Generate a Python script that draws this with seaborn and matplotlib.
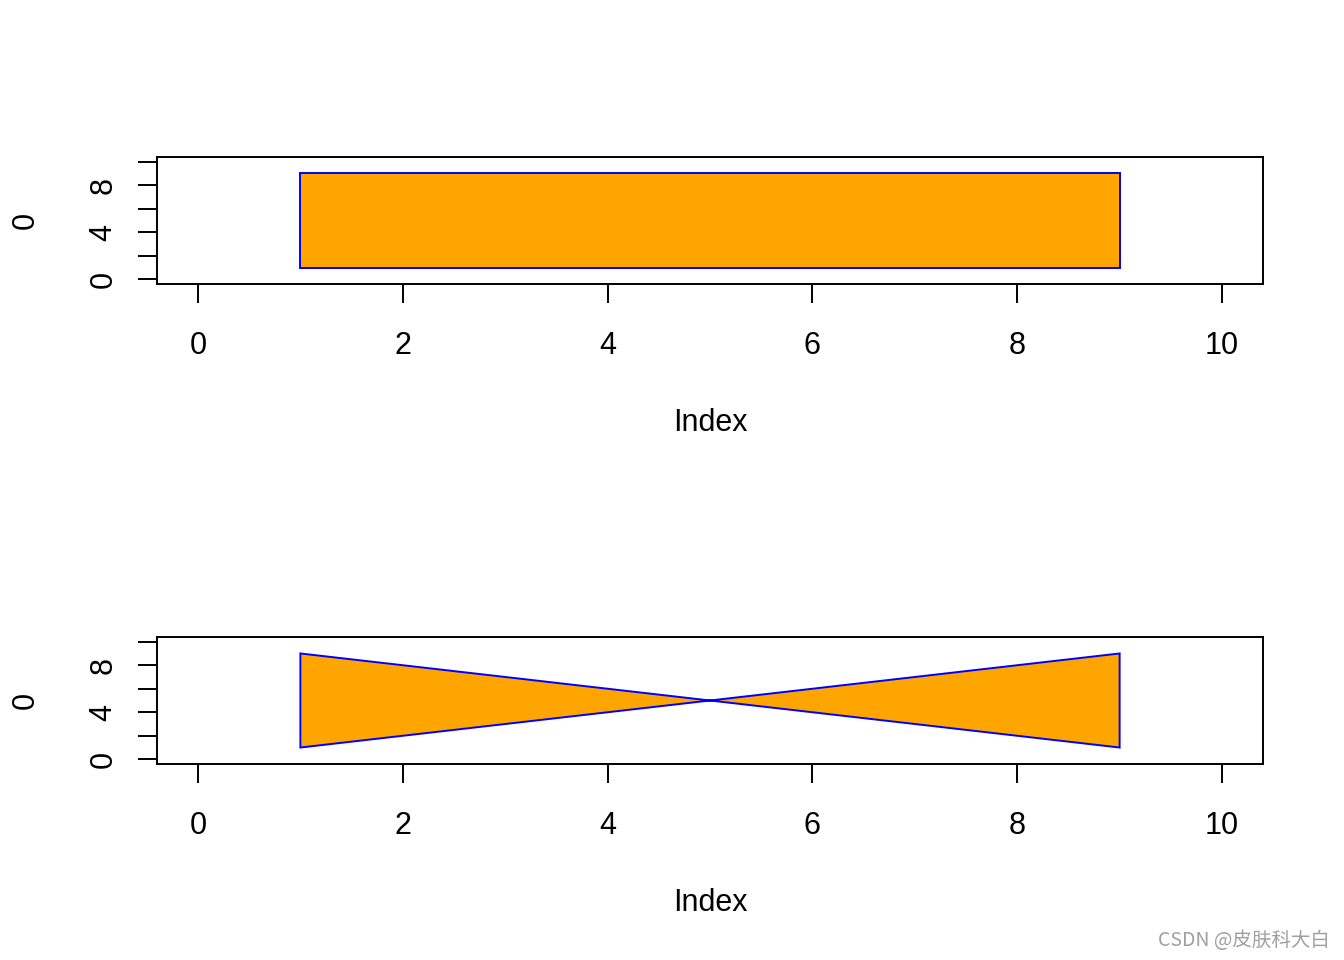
"""
Two base-R style polygon panels redrawn with seaborn / matplotlib
"""
import matplotlib
matplotlib.use("Agg")
import matplotlib.pyplot as plt
import seaborn as sns

# polygon vertices (index, value)
rect_x = [1, 9, 9, 1]
rect_y = [1, 1, 9, 9]
bow_x = [1, 9, 9, 1]
bow_y = [9, 1, 9, 1]

x_ticks = [0, 2, 4, 6, 8, 10]
x_tick_labels = ["0", "2", "4", "6", "8", "10"]
y_ticks = [0, 2, 4, 6, 8, 10]
y_tick_labels = ["0", "", "4", "", "8", ""]

sns.set_style("ticks")
plt.rcParams['font.family'] = ['Liberation Sans', 'DejaVu Sans']

fig = plt.figure(figsize=(13.44, 9.6), dpi=100)
W, H = 1344, 960

# axes boxes in pixels: left, top, right, bottom
boxes = [(157, 157, 1263, 284), (157, 637, 1263, 764)]
panels = [(rect_x, rect_y), (bow_x, bow_y)]

for (l, t, r, b), (px, py) in zip(boxes, panels):
    ax = fig.add_axes([l / W, 1 - b / H, (r - l) / W, (b - t) / H])
    ax.fill(px, py, facecolor="#FFA500", edgecolor="#0000FF", linewidth=1.4)
    ax.set_xlim(-0.4, 10.4)
    ax.set_ylim(-0.4, 10.4)
    for s in ax.spines.values():
        s.set_visible(True)
        s.set_linewidth(1.4)
        s.set_color("black")

    ax.set_xticks(x_ticks, x_tick_labels)
    ax.set_yticks(y_ticks, y_tick_labels)
    ax.tick_params(axis="x", direction="out", length=13.7, width=1.4,
                   pad=20.5, labelsize=22, colors="black")
    ax.tick_params(axis="y", direction="out", length=13.7, width=1.4,
                   pad=14, labelsize=22, colors="black")
    plt.setp(ax.get_yticklabels(), rotation=90, va="center")

    ax.set_xlabel("Index", fontsize=22, va="center", color="black")
    ax.xaxis.set_label_coords(0.5, -(423 - 284) / (b - t))
    ax.set_ylabel("0", fontsize=22, va="center", rotation=90, color="black")
    ax.yaxis.set_label_coords((26 - l) / (r - l), 0.5)
    ax.grid(False)

fig.text(1330 / W, 1 - 941 / H, "CSDN @皮肤科大白", ha="right", va="center",
         fontsize=14, color="#a0a0a0",
         family=['Noto Sans CJK SC', 'DejaVu Sans'])

fig.savefig("out.png", dpi=100)
plt.close(fig)
